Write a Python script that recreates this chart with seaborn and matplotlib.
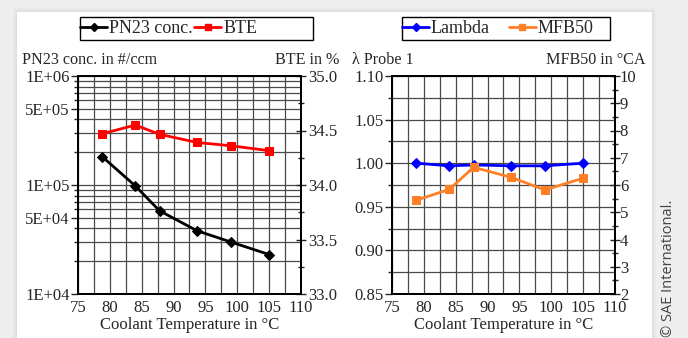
import numpy as np
import pandas as pd
import matplotlib
matplotlib.use("Agg")
import matplotlib.pyplot as plt
import matplotlib.ticker as mticker
from matplotlib.patches import Rectangle
from matplotlib.lines import Line2D
import seaborn as sns

# ---------------- data ----------------
coolant_temp = [78.8, 84.0, 87.8, 93.7, 99.0, 105.0]
pn23_conc = [1.82e5, 9.8e4, 5.8e4, 3.8e4, 3.0e4, 2.3e4]
bte = [34.47, 34.55, 34.465, 34.39, 34.36, 34.315]
lambda_probe = [1.000, 0.997, 0.998, 0.997, 0.997, 1.000]
mfb50 = [5.44, 5.84, 6.65, 6.28, 5.82, 6.25]

x_ticks = [75, 80, 85, 90, 95, 100, 105, 110]
pn_ticks = [1e4, 5e4, 1e5, 5e5, 1e6]
pn_tick_labels = ["1E+04", "5E+04", "1E+05", "5E+05", "1E+06"]
bte_ticks = [33.0, 33.5, 34.0, 34.5, 35.0]
lam_ticks = [0.85, 0.90, 0.95, 1.00, 1.05, 1.10]
mfb_ticks = [2, 3, 4, 5, 6, 7, 8, 9, 10]

df = pd.DataFrame({"T": coolant_temp, "PN": pn23_conc, "BTE": bte,
                   "Lambda": lambda_probe, "MFB50": mfb50})

sns.set_style("white")
plt.rcParams["font.family"] = ["Liberation Serif", "DejaVu Serif"]

FS = 12
GRID_C = "#4a4a4a"
BLACK = "#000000"
RED = "#FF0000"
BLUE = "#0000FF"
ORANGE = "#FF7F27"

fig = plt.figure(figsize=(6.88, 3.38), dpi=100)
fig.patch.set_facecolor("#eeeeee")
W, H = 688, 338
for i, a in enumerate([0.03, 0.04, 0.05, 0.06]):
    off = 4 - i
    fig.patches.append(Rectangle(((17 - off) / W, 0), (652 - 17 + 2 * off) / W,
                                 (338 - 12 + off) / H, transform=fig.transFigure,
                                 facecolor="#999999", alpha=a, edgecolor="none", zorder=-5))
fig.patches.append(Rectangle((17 / W, 0), (652 - 17) / W, (338 - 12) / H,
                             transform=fig.transFigure, facecolor="white",
                             edgecolor="none", zorder=-4))


def style_common(ax):
    for s in ax.spines.values():
        s.set_color(BLACK)
        s.set_linewidth(1.4)
    ax.set_xlim(75, 110)
    ax.xaxis.set_major_locator(mticker.FixedLocator(x_ticks))
    ax.xaxis.set_minor_locator(mticker.MultipleLocator(2.5))
    ax.tick_params(axis="x", which="both", direction="out", length=3, width=1,
                   labelsize=FS, pad=1, color=BLACK)
    ax.tick_params(axis="x", which="minor", length=0)
    ax.grid(True, axis="x", which="both", color=GRID_C, linewidth=0.9)
    ax.set_facecolor("white")


axL = fig.add_axes([78 / W, 1 - 294 / H, 223 / W, 218 / H])
axR = fig.add_axes([392 / W, 1 - 294 / H, 223 / W, 218 / H])

# ---------- left panel ----------
style_common(axL)
axL.set_yscale("log")
axL.set_ylim(1e4, 1e6)
axL.yaxis.set_major_locator(mticker.FixedLocator(pn_ticks))
axL.yaxis.set_major_formatter(mticker.FixedFormatter(pn_tick_labels))
axL.yaxis.set_minor_locator(mticker.LogLocator(base=10, subs=np.arange(2, 10), numticks=20))
axL.yaxis.set_minor_formatter(mticker.NullFormatter())
axL.tick_params(axis="y", which="major", direction="out", length=5, width=1, labelsize=FS, pad=1)
axL.tick_params(axis="y", which="minor", direction="out", length=3, width=1)
axL.grid(True, axis="y", which="both", color=GRID_C, linewidth=0.9)
sns.lineplot(data=df, x="T", y="PN", ax=axL, color=BLACK, marker="D", markersize=5,
             linewidth=2, markeredgecolor=BLACK, zorder=5)
axL.set_xlabel("Coolant Temperature in °C", fontsize=FS, labelpad=1)
axL.set_ylabel("")

axL2 = axL.twinx()
axL2.set_ylim(33.0, 35.0)
axL2.yaxis.set_major_locator(mticker.FixedLocator(bte_ticks))
axL2.yaxis.set_major_formatter(mticker.FormatStrFormatter("%.1f"))
axL2.yaxis.set_minor_locator(mticker.MultipleLocator(0.25))
axL2.tick_params(axis="y", which="major", direction="inout", length=7, width=1, labelsize=FS, pad=2)
axL2.tick_params(axis="y", which="minor", direction="inout", length=5, width=1)
for s in axL2.spines.values():
    s.set_color(BLACK)
    s.set_linewidth(1.4)
sns.lineplot(data=df, x="T", y="BTE", ax=axL2, color=RED, marker="s", markersize=5.5,
             linewidth=2, markeredgecolor=RED, zorder=5)
axL2.set_ylabel("")
axL2.set_xlim(75, 110)

fig.text(22 / W, 1 - 60 / H, "PN23 conc. in #/ccm", fontsize=11.6, ha="left", va="center")
fig.text(339 / W, 1 - 60 / H, "BTE in %", fontsize=11.6, ha="right", va="center")

# ---------- right panel ----------
style_common(axR)
axR.set_ylim(0.85, 1.10)
axR.yaxis.set_major_locator(mticker.FixedLocator(lam_ticks))
axR.yaxis.set_major_formatter(mticker.FormatStrFormatter("%.2f"))
axR.yaxis.set_minor_locator(mticker.MultipleLocator(0.025))
axR.tick_params(axis="y", which="major", direction="out", length=5, width=1, labelsize=FS, pad=1)
axR.tick_params(axis="y", which="minor", direction="out", length=3, width=1)
axR.grid(True, axis="y", which="both", color=GRID_C, linewidth=0.9)
sns.lineplot(data=df, x="T", y="Lambda", ax=axR, color=BLUE, marker="D", markersize=5,
             linewidth=2, markeredgecolor=BLUE, zorder=5)
axR.set_xlabel("Coolant Temperature in °C", fontsize=FS, labelpad=1)
axR.set_ylabel("")

axR2 = axR.twinx()
axR2.set_ylim(2, 10)
axR2.yaxis.set_major_locator(mticker.FixedLocator(mfb_ticks))
axR2.yaxis.set_major_formatter(mticker.FormatStrFormatter("%d"))
axR2.yaxis.set_minor_locator(mticker.MultipleLocator(0.5))
axR2.tick_params(axis="y", which="major", direction="inout", length=7, width=1, labelsize=FS, pad=0)
axR2.tick_params(axis="y", which="minor", direction="inout", length=5, width=1)
for s in axR2.spines.values():
    s.set_color(BLACK)
    s.set_linewidth(1.4)
sns.lineplot(data=df, x="T", y="MFB50", ax=axR2, color=ORANGE, marker="s", markersize=5.5,
             linewidth=2, markeredgecolor=ORANGE, zorder=5)
axR2.set_ylabel("")
axR2.set_xlim(75, 110)

fig.text(352 / W, 1 - 60 / H, "λ Probe 1", fontsize=11.6, ha="left", va="center")
fig.text(646 / W, 1 - 60 / H, "MFB50 in °CA", fontsize=11.6, ha="right", va="center")

# ---------- legends (frameless legend + separate box) ----------
def make_legend(handles, labels, x0, x1, colsp):
    fig.patches.append(Rectangle((x0 / W, 1 - 40 / H), (x1 - x0) / W, 23 / H,
                                 transform=fig.transFigure, facecolor="white",
                                 edgecolor=BLACK, linewidth=1.0, zorder=1))
    leg = fig.legend(handles, labels, loc="center left",
                     bbox_to_anchor=(x0 / W, 1 - 28.5 / H),
                     ncol=2, frameon=False, fontsize=FS + 1,
                     handlelength=1.5, handletextpad=0.1, columnspacing=colsp,
                     borderpad=0, borderaxespad=0)
    leg.set_zorder(2)
    return leg

hL = [Line2D([], [], color=BLACK, marker="D", markersize=4, linewidth=2),
      Line2D([], [], color=RED, marker="s", markersize=4.5, linewidth=2)]
make_legend(hL, ["PN23 conc.", "BTE"], 80, 313, 0.1)
hR = [Line2D([], [], color=BLUE, marker="D", markersize=4, linewidth=2),
      Line2D([], [], color=ORANGE, marker="s", markersize=4.5, linewidth=2)]
make_legend(hR, ["Lambda", "MFB50"], 402, 610, 1.05)

fig.text(669 / W, 1 - 268 / H, "© SAE International.", rotation=90, fontsize=10.5,
         family=["Open Sans", "DejaVu Sans"], color="#444444", ha="center", va="center")

fig.savefig("out.png", dpi=100, facecolor=fig.get_facecolor())
